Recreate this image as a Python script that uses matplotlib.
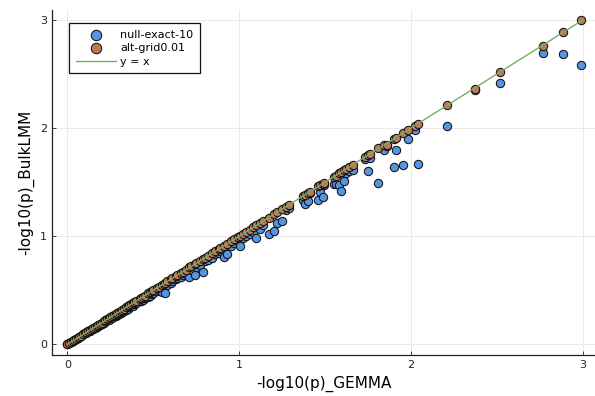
import matplotlib
matplotlib.use("Agg")
import matplotlib.pyplot as plt

# -log10(p) from GEMMA (shared x for both series)
gemma = [
    0.00, 0.01, 0.02, 0.03, 0.04, 0.05, 0.06, 0.07, 0.08, 0.09,
    0.10, 0.11, 0.12, 0.13, 0.14, 0.15, 0.16, 0.17, 0.18, 0.19,
    0.20, 0.21, 0.22, 0.23, 0.24, 0.25, 0.26, 0.27, 0.28, 0.29,
    0.30, 0.31, 0.32, 0.33, 0.34, 0.35, 0.36, 0.37, 0.38, 0.39,
    0.40, 0.42, 0.43, 0.44, 0.45, 0.47, 0.48, 0.49, 0.50, 0.52,
    0.53, 0.55, 0.56, 0.57, 0.58, 0.60, 0.61, 0.63, 0.64, 0.66,
    0.67, 0.69, 0.71, 0.72, 0.74, 0.75, 0.77, 0.79, 0.80, 0.82,
    0.84, 0.86, 0.88, 0.89, 0.91, 0.93, 0.95, 0.97, 0.99, 1.005,
    1.02, 1.04, 1.06, 1.08, 1.10, 1.12, 1.14, 1.17, 1.20, 1.22,
    1.25, 1.27, 1.29, 1.37, 1.38, 1.40, 1.41, 1.46, 1.47, 1.485,
    1.49, 1.55, 1.56, 1.58, 1.59, 1.61, 1.62, 1.64, 1.66, 1.73,
    1.75, 1.76, 1.81, 1.84, 1.86, 1.90, 1.91, 1.95, 1.98, 2.02,
    2.04, 2.21, 2.37, 2.52, 2.77, 2.885, 2.99,
]

# -log10(p) from BulkLMM, null-exact-10
null_exact = [
    0.00, 0.01, 0.02, 0.03, 0.04, 0.05, 0.06, 0.07, 0.08, 0.09,
    0.10, 0.10, 0.12, 0.12, 0.14, 0.14, 0.15, 0.16, 0.17, 0.18,
    0.19, 0.20, 0.21, 0.22, 0.22, 0.24, 0.24, 0.26, 0.26, 0.27,
    0.28, 0.29, 0.30, 0.31, 0.32, 0.33, 0.34, 0.35, 0.35, 0.37,
    0.38, 0.40, 0.40, 0.41, 0.43, 0.44, 0.45, 0.46, 0.47, 0.49,
    0.50, 0.48, 0.53, 0.47, 0.55, 0.57, 0.58, 0.60, 0.61, 0.62,
    0.64, 0.65, 0.62, 0.69, 0.64, 0.71, 0.73, 0.67, 0.77, 0.78,
    0.80, 0.83, 0.84, 0.86, 0.81, 0.83, 0.91, 0.94, 0.95, 0.905,
    0.98, 1.00, 1.02, 1.04, 0.985, 1.07, 1.10, 1.02, 1.05, 1.12,
    1.14, 1.24, 1.26, 1.33, 1.30, 1.32, 1.40, 1.33, 1.41, 1.36,
    1.47, 1.48, 1.48, 1.47, 1.42, 1.51, 1.58, 1.60, 1.61, 1.71,
    1.60, 1.72, 1.49, 1.80, 1.83, 1.64, 1.80, 1.66, 1.90, 1.98,
    1.67, 2.02, 2.35, 2.42, 2.69, 2.68, 2.58,
]

# -log10(p) from BulkLMM, alt-grid0.01
alt_grid = [
    0.00, 0.01, 0.02, 0.03, 0.04, 0.05, 0.06, 0.07, 0.08, 0.09,
    0.10, 0.11, 0.12, 0.13, 0.14, 0.15, 0.16, 0.17, 0.18, 0.19,
    0.20, 0.21, 0.22, 0.23, 0.24, 0.25, 0.26, 0.27, 0.28, 0.29,
    0.30, 0.31, 0.32, 0.33, 0.34, 0.35, 0.36, 0.37, 0.38, 0.39,
    0.40, 0.42, 0.43, 0.44, 0.45, 0.47, 0.48, 0.49, 0.50, 0.52,
    0.53, 0.55, 0.56, 0.57, 0.58, 0.60, 0.61, 0.63, 0.64, 0.66,
    0.67, 0.69, 0.71, 0.72, 0.74, 0.75, 0.77, 0.79, 0.80, 0.82,
    0.84, 0.86, 0.88, 0.89, 0.91, 0.93, 0.95, 0.97, 0.99, 1.005,
    1.02, 1.04, 1.06, 1.08, 1.10, 1.12, 1.14, 1.17, 1.20, 1.22,
    1.25, 1.27, 1.29, 1.37, 1.38, 1.40, 1.41, 1.46, 1.47, 1.485,
    1.49, 1.55, 1.56, 1.58, 1.59, 1.61, 1.62, 1.64, 1.66, 1.73,
    1.75, 1.76, 1.81, 1.84, 1.84, 1.90, 1.91, 1.95, 1.98, 2.02,
    2.04, 2.21, 2.36, 2.52, 2.76, 2.885, 3.00,
]

line_ends = [0, 3]

fig = plt.figure(figsize=(5.95, 3.96), dpi=100)
ax = fig.add_axes([0.0874, 0.1035, 0.9126, 0.871])

ax.scatter(gemma, null_exact, s=36, c="#5596E2", edgecolors="#111111",
           linewidths=0.75, label="null-exact-10", zorder=3)
ax.scatter(gemma, alt_grid, s=36, c="#BE7855", edgecolors="#111111",
           linewidths=0.75, label="alt-grid0.01", zorder=4)
ax.plot(line_ends, line_ends, color="#76AE68", lw=1.0, label="y = x", zorder=5)

ax.set_xlim(-0.09, 3.07)
ax.set_ylim(-0.1, 3.09)
ax.set_xticks([0, 1, 2, 3])
ax.set_yticks([0, 1, 2, 3])
ax.set_xlabel("-log10(p)_GEMMA", fontsize=11)
ax.set_ylabel("-log10(p)_BulkLMM", fontsize=11)
ax.tick_params(labelsize=8, length=3, width=0.6, direction="in", colors="#222222")
ax.grid(True, color="#e6e6e6", lw=0.6)
ax.set_axisbelow(True)
for side in ["top", "right"]:
    ax.spines[side].set_visible(False)
for side in ["left", "bottom"]:
    ax.spines[side].set_color("#222222")
    ax.spines[side].set_linewidth(0.9)

leg = ax.legend(loc="upper left", bbox_to_anchor=(0.031, 0.962), fontsize=8,
                frameon=True, fancybox=False, borderpad=0.6, handlelength=3.6,
                labelspacing=0.3, handletextpad=0.4, borderaxespad=0,
                markerscale=1.25, framealpha=1)
leg.get_frame().set_edgecolor("#111111")
leg.get_frame().set_linewidth(0.9)

fig.savefig("out.png", dpi=100)
